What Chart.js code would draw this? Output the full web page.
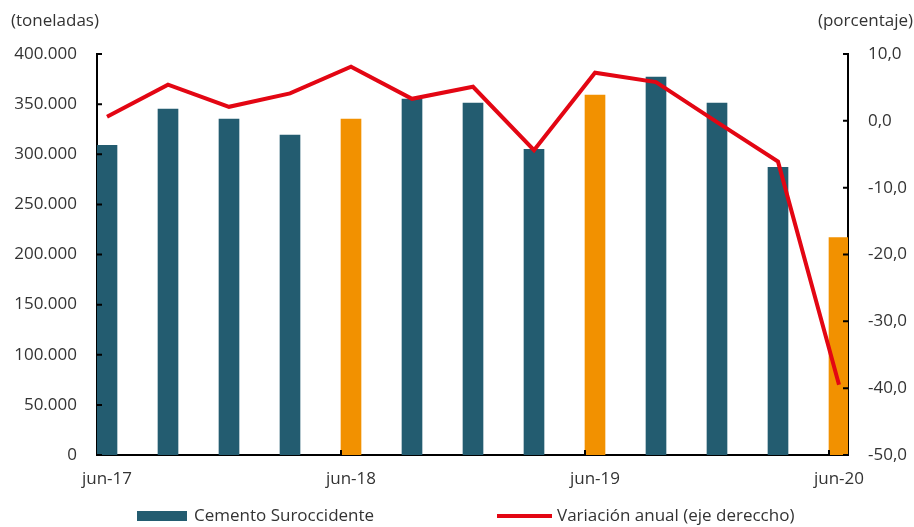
<!DOCTYPE html>
<html>
<head>
<meta charset="utf-8">
<script src="https://cdn.jsdelivr.net/npm/chart.js@4/dist/chart.umd.min.js"></script>
<style>
  body { margin: 0; background: #fff; }
  #wrap { position: relative; width: 914px; height: 527px; font-family: "Open Sans", sans-serif; color: #333; }
  .legend { position: absolute; top: 503px; font-size: 17px; line-height: 24px; white-space: nowrap; }
  .legend .swatch { position: absolute; }
</style>
</head>
<body>
<div id="wrap">
  <canvas id="chart" width="914" height="527"></canvas>
  <div class="legend" style="left:137px"><span class="swatch" style="left:0;top:8px;width:50px;height:10px;background:#235c70"></span><span style="margin-left:57px">Cemento Suroccidente</span></div>
  <div class="legend" style="left:497px"><span class="swatch" style="left:0;top:11px;width:55px;height:4px;background:#e30613"></span><span style="margin-left:60px">Variación anual (eje dereccho)</span></div>
</div>
<script>
const quarters = ['jun-17', 'sep-17', 'dic-17', 'mar-18', 'jun-18', 'sep-18', 'dic-18',
  'mar-19', 'jun-19', 'sep-19', 'dic-19', 'mar-20', 'jun-20'];
const labeledQuarters = [0, 4, 8, 12];
const highlighted = [4, 8, 12];
const cementTons = [309000, 345000, 335000, 319000, 335000, 355000, 351000,
  305000, 359000, 377000, 351000, 287000, 217000];
const annualChange = [0.6, 5.4, 2.1, 4.1, 8.1, 3.3, 5.1, -4.4, 7.2, 5.8, -0.2, -6.1, -39.5];

const TEAL = '#235c70';
const ORANGE = '#f29100';
const RED = '#e30613';
const SHIFT = 10 / 61; // bars sit just right of the category tick

const FONT = { family: '"Open Sans", sans-serif', size: 17 };

const axisExtras = {
  id: 'axisExtras',
  afterDraw(chart) {
    const { ctx, chartArea: a, scales } = chart;
    ctx.save();
    ctx.strokeStyle = '#000';
    ctx.lineWidth = 2;
    ctx.beginPath();
    scales.y.ticks.forEach(t => {
      const p = scales.y.getPixelForValue(t.value);
      ctx.moveTo(a.left, p); ctx.lineTo(a.left + 5, p);
    });
    scales.y1.ticks.forEach(t => {
      const p = scales.y1.getPixelForValue(t.value);
      ctx.moveTo(a.right - 5, p); ctx.lineTo(a.right, p);
    });
    labeledQuarters.slice(1).forEach(i => {
      const p = scales.x.getPixelForValue(i);
      ctx.moveTo(p, a.bottom); ctx.lineTo(p, a.bottom - 5);
    });
    ctx.stroke();
    ctx.fillStyle = '#333';
    ctx.font = '17px "Open Sans", sans-serif';
    ctx.textBaseline = 'middle';
    ctx.textAlign = 'left';
    ctx.fillText('(toneladas)', 11, 21);
    ctx.textAlign = 'right';
    ctx.fillText('(porcentaje)', 913, 21);
    ctx.restore();
  },
};

new Chart(document.getElementById('chart'), {
  data: {
    datasets: [
      {
        type: 'line',
        label: 'Variación anual (eje dereccho)',
        data: annualChange.map((v, i) => ({ x: i + SHIFT, y: v })),
        yAxisID: 'y1',
        borderColor: RED,
        borderWidth: 4,
        pointRadius: 0,
        tension: 0,
        order: 0,
      },
      {
        type: 'bar',
        label: 'Cemento Suroccidente',
        data: cementTons.map((v, i) => ({ x: i + SHIFT, y: v })),
        yAxisID: 'y',
        backgroundColor: cementTons.map((v, i) => highlighted.includes(i) ? ORANGE : TEAL),
        barThickness: 20,
        order: 1,
      },
    ],
  },
  options: {
    responsive: false,
    animation: false,
    layout: { padding: { top: 54, right: 0, left: 0, bottom: 0 } },
    plugins: { legend: { display: false }, tooltip: { enabled: false } },
    scales: {
      x: {
        type: 'linear',
        offset: false,
        min: 0,
        max: 751 / 61,
        grid: { display: false, drawTicks: false, offset: false },
        border: { color: '#000', width: 2 },
        afterBuildTicks(scale) {
          scale.ticks = labeledQuarters.map(i => ({ value: i + SHIFT }));
        },
        afterFit(scale) { scale.height = 72; },
        ticks: {
          autoSkip: false,
          maxRotation: 0,
          padding: 14,
          color: '#333',
          font: FONT,
          callback: v => quarters[Math.round(v - SHIFT)],
        },
      },
      y: {
        position: 'left',
        min: 0,
        max: 400000,
        grid: { display: false, drawTicks: false },
        border: { color: '#000', width: 2 },
        afterFit(scale) { scale.width = 97; },
        ticks: {
          stepSize: 50000,
          padding: 20,
          color: '#333',
          font: FONT,
          callback: v => v.toLocaleString('de-DE'),
        },
      },
      y1: {
        position: 'right',
        min: -50,
        max: 10,
        grid: { display: false, drawTicks: false },
        border: { color: '#000', width: 2 },
        afterFit(scale) { scale.width = 66; },
        ticks: {
          stepSize: 10,
          padding: 20,
          color: '#333',
          font: FONT,
          callback: v => v.toFixed(1).replace('.', ','),
        },
      },
    },
  },
  plugins: [axisExtras],
});
</script>
</body>
</html>
